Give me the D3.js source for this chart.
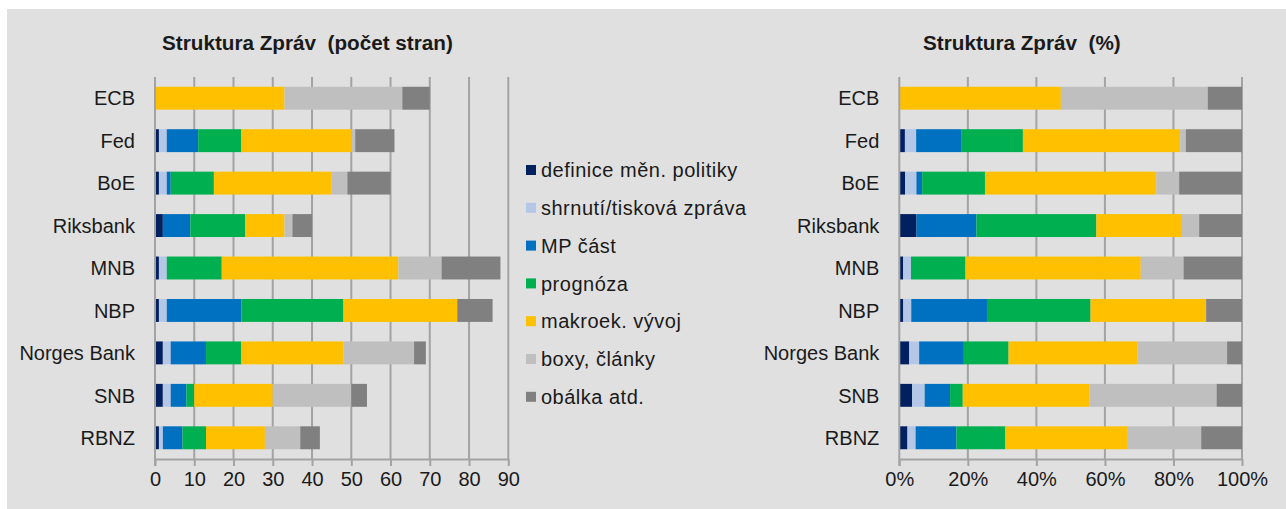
<!DOCTYPE html>
<html>
<head>
<meta charset="utf-8">
<script src="https://cdn.jsdelivr.net/npm/d3@7"></script>
<style>
  body { margin: 0; background: #ffffff; }
  svg text { font-family: "Liberation Sans", Arial, sans-serif; fill: #1a1a1a; }
</style>
</head>
<body>
<svg id="chart" width="1286" height="509"></svg>
<script>
// kategorie (centrální banky)
const banks = ["ECB", "Fed", "BoE", "Riksbank", "MNB", "NBP", "Norges Bank", "SNB", "RBNZ"];

// počet stran podle částí zprávy
const definice = [0, 1, 1, 2, 1, 1, 2, 2, 1];
const shrnuti = [0, 2, 2, 0, 2, 2, 2, 2, 1];
const mpCast = [0, 8, 1, 7, 0, 19, 9, 4, 5];
const prognoza = [0, 11, 11, 14, 14, 26, 9, 2, 6];
const makroek = [33, 28, 30, 10, 45, 29, 26, 20, 15];
const boxy = [30, 1, 4, 2, 11, 0, 18, 20, 9];
const obalka = [7, 10, 11, 5, 15, 9, 3, 4, 5];

const seriesNames = ["definice měn. politiky", "shrnutí/tisková zpráva", "MP část", "prognóza", "makroek. vývoj", "boxy, články", "obálka atd."];
const seriesColors = ["#002060", "#b4c7e7", "#0070c0", "#00b050", "#ffc000", "#bfbfbf", "#808080"];

const countTicks = [0, 10, 20, 30, 40, 50, 60, 70, 80, 90];
const pctTicks = [0, 0.2, 0.4, 0.6, 0.8, 1];

// tabulka pro d3.stack
const allSeries = [definice, shrnuti, mpCast, prognoza, makroek, boxy, obalka];
const keys = d3.range(allSeries.length);
const rows = banks.map((b, i) => {
  const r = { bank: b };
  keys.forEach((k) => (r[k] = allSeries[k][i]));
  return r;
});

const svg = d3.select("#chart");

// pozadí grafu
svg.append("rect").attr("x", 7).attr("y", 9).attr("width", 1279).attr("height", 500).attr("fill", "#e0e0e0");

const gridColor = "#a3a3a3";

function drawChart(opts) {
  const stacked = d3.stack().keys(keys).offset(opts.offset)(rows);

  const x = d3.scaleLinear().domain(opts.domain).range([opts.left, opts.right]);
  const y = d3.scaleBand().domain(banks).range([77, 459]).paddingInner(0.46).paddingOuter(0.23);

  const g = svg.append("g");

  // svislé mřížky
  g.selectAll(".grid")
    .data(opts.ticks.slice(1))
    .enter()
    .append("line")
    .attr("x1", (d) => x(d))
    .attr("x2", (d) => x(d))
    .attr("y1", 77)
    .attr("y2", 459)
    .attr("stroke", gridColor)
    .attr("stroke-width", 2);

  // sloupce
  g.selectAll(".serie")
    .data(stacked)
    .enter()
    .append("g")
    .attr("fill", (d) => seriesColors[d.key])
    .selectAll("rect")
    .data((d) => d)
    .enter()
    .append("rect")
    .attr("x", (d) => x(d[0]))
    .attr("width", (d) => Math.max(0, x(d[1]) - x(d[0])))
    .attr("y", (d) => y(d.data.bank))
    .attr("height", y.bandwidth());

  // osa x
  const axis = g.append("g")
    .attr("transform", "translate(0,459)")
    .call(d3.axisBottom(x).tickValues(opts.ticks).tickFormat(opts.format).tickSize(7).tickSizeOuter(0).tickPadding(6));
  axis.select(".domain").attr("stroke", gridColor).attr("stroke-width", 2);
  axis.selectAll(".tick line").attr("stroke", gridColor).attr("stroke-width", 2);
  axis.selectAll("text").style("font-size", "20px").attr("fill", "#1a1a1a");

  // osa y
  g.append("line")
    .attr("x1", x(0)).attr("x2", x(0))
    .attr("y1", 77).attr("y2", 466)
    .attr("stroke", gridColor).attr("stroke-width", 2);

  g.selectAll(".cat")
    .data(banks)
    .enter()
    .append("text")
    .attr("x", x(0) - 20)
    .attr("y", (d) => y(d) + y.bandwidth() / 2)
    .attr("dy", "0.36em")
    .attr("text-anchor", "end")
    .style("font-size", "20px")
    .text((d) => d);

  // nadpis
  g.append("text")
    .attr("x", opts.titleX)
    .attr("y", 50)
    .attr("text-anchor", opts.titleAnchor)
    .style("font-size", "20.7px")
    .style("font-weight", "bold")
    .style("white-space", "pre")
    .text(opts.title);
}

drawChart({
  left: 155, right: 508.3, domain: [0, 90], ticks: countTicks,
  format: d3.format("d"), offset: d3.stackOffsetNone,
  title: "Struktura Zpráv  (počet stran)", titleX: 162, titleAnchor: "start"
});

drawChart({
  left: 899.3, right: 1242, domain: [0, 1], ticks: pctTicks,
  format: d3.format(".0%"), offset: d3.stackOffsetExpand,
  title: "Struktura Zpráv  (%)", titleX: 923, titleAnchor: "start"
});

// legenda
const legend = svg.append("g").selectAll("g")
  .data(seriesNames)
  .enter()
  .append("g")
  .attr("transform", (d, i) => `translate(526, ${170 + i * 37.8})`);

legend.append("rect")
  .attr("x", 0).attr("y", -5)
  .attr("width", 10).attr("height", 10)
  .attr("fill", (d, i) => seriesColors[i]);

legend.append("text")
  .attr("x", 15)
  .attr("y", 0)
  .attr("dy", "0.36em")
  .style("font-size", "20px")
  .style("letter-spacing", "0.5px")
  .text((d) => d);
</script>
</body>
</html>
